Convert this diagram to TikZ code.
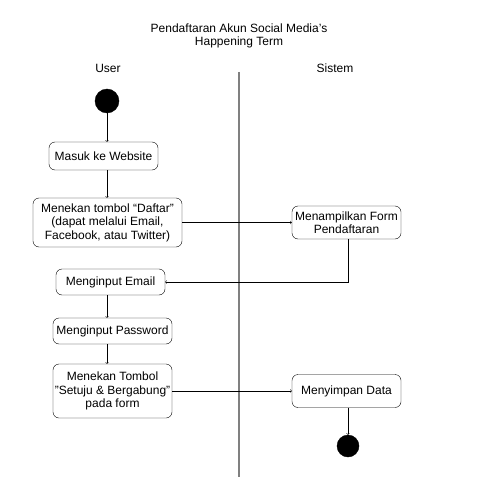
\documentclass[tikz,border=0pt]{standalone}
\usepackage{fontspec}
\setmainfont{Liberation Sans}
\usetikzlibrary{arrows}
\newcommand{\dq}{\symbol{34}}
\tikzset{
    tnode/.style = {align=center, inner sep=0pt, text centered, font=\fontsize{12}{13.5}\selectfont},
    act_node/.style = {tnode, rectangle, rounded corners=6pt, draw=black, thin},
    dot_node/.style = {circle, draw=black, fill=black, minimum size=24pt, inner sep=0pt},
    lane/.style = {draw=gray, line width=1.5pt},
    flow/.style = {->, >=to, thin}
}

\begin{document}
\begin{tikzpicture}[x=1pt, y=-1pt]
    \useasboundingbox (0,0) rectangle (500,500);
    % heading and swimlanes
    \node [tnode] (title) at (239,36) {Pendaftaran Akun Social Media’s\\Happening Term};
    \node [tnode] (user) at (108,68) {User};
    \node [tnode] (sistem) at (335,68) {Sistem};
    \coordinate (lane_top) at (239,72);
    \coordinate (lane_bot) at (239,477);
    \draw [lane] (lane_top) -- (lane_bot);
    % activities
    \node [dot_node] (start) at (107,101) {};
    \node [act_node, minimum width=109pt, minimum height=28pt] (masuk) at (103.5,156) {Masuk ke Website};
    \node [act_node, minimum width=149pt, minimum height=49pt] (daftar) at (107.5,222.5) {Menekan tombol “Daftar\dq\\(dapat melalui Email,\\Facebook, atau Twitter)};
    \node [act_node, minimum width=109pt, minimum height=33pt] (form) at (346.5,222.5) {Menampilkan Form\\Pendaftaran};
    \node [act_node, minimum width=109pt, minimum height=26pt] (email) at (110.5,282) {Menginput Email};
    \node [act_node, minimum width=119pt, minimum height=26pt] (password) at (112.5,331) {Menginput Password};
    \node [act_node, minimum width=119pt, minimum height=54pt] (setuju) at (112.5,391) {Menekan Tombol\\\dq Setuju \& Bergabung\dq\\pada form};
    \node [act_node, minimum width=109pt, minimum height=33pt] (simpan) at (346.5,391) {Menyimpan Data};
    \node [dot_node, minimum size=22pt] (finish) at (348,446) {};
    % flows
    \draw [flow] (start) -- (start |- masuk.north);
    \draw [flow] (masuk.south -| start) -- (daftar.north -| start);
    \draw [flow] (daftar) -- (form);
    \draw [flow] (form.south -| finish) |- (email.east);
    \draw [flow] (email.south -| start) -- (password.north -| start);
    \draw [flow] (password.south -| start) -- (setuju.north -| start);
    \draw [flow] (setuju) -- (simpan);
    \draw [flow] (simpan.south -| finish) -- (finish);
\end{tikzpicture}
\end{document}
